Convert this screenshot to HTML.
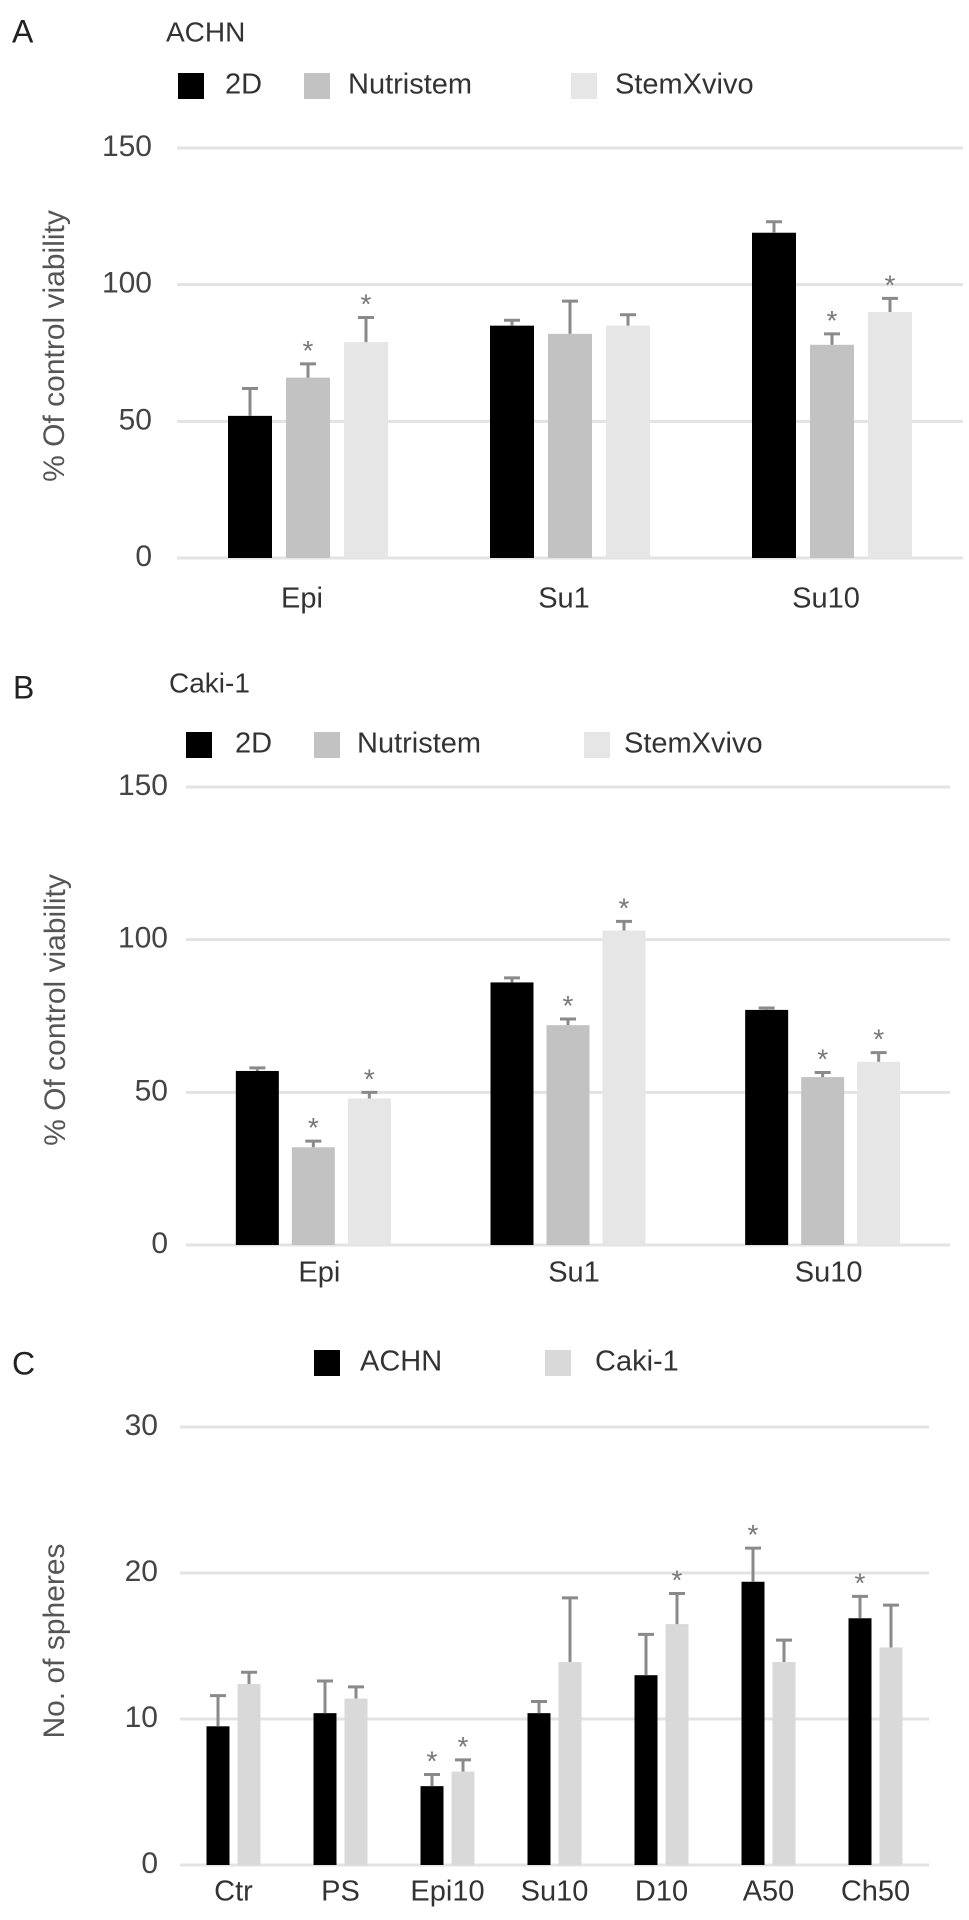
<!DOCTYPE html>
<html><head><meta charset="utf-8"><style>
html,body{margin:0;padding:0;background:#fff}
svg{display:block;font-family:"Liberation Sans",sans-serif}
</style></head><body>
<svg id="fig" width="969" height="1920" viewBox="0 0 969 1920" xmlns="http://www.w3.org/2000/svg"></svg>
<script>
// Panel A data
const catsA = ["Epi","Su1","Su10"];
const a2D = [52,85,119];
const a2Derr = [10,2,4];
const aNut = [66,82,78];
const aNutErr = [5,12,4];
const aStem = [79,85,90];
const aStemErr = [9,4,5];
const aStars = [[false,true,true],[false,false,false],[false,true,true]];
// Panel B data
const catsB = ["Epi","Su1","Su10"];
const b2D = [57,86,77];
const b2Derr = [1,1.5,0.6];
const bNut = [32,72,55];
const bNutErr = [2,2,1.5];
const bStem = [48,103,60];
const bStemErr = [2,3,3];
const bStars = [[false,true,true],[false,true,true],[false,true,true]];
const ticksAB = [0,50,100,150];
// Panel C data
const catsC = ["Ctr","PS","Epi10","Su10","D10","A50","Ch50"];
const cACHN = [9.5,10.4,5.4,10.4,13,19.4,16.9];
const cACHNerr = [2.1,2.2,0.8,0.8,2.8,2.3,1.5];
const cCaki = [12.4,11.4,6.4,13.9,16.5,13.9,14.9];
const cCakiErr = [0.8,0.8,0.8,4.4,2.1,1.5,2.9];
const cStars = [[false,false],[false,false],[true,true],[false,false],[false,true],[true,false],[true,false]];
const ticksC = [0,10,20,30];

const NS="http://www.w3.org/2000/svg";
const svg=document.getElementById('fig');
function el(tag,attrs,parent,text){const e=document.createElementNS(NS,tag);for(const k in attrs)e.setAttribute(k,attrs[k]);if(text!==undefined)e.textContent=text;(parent||svg).appendChild(e);return e;}

function panel(cfg){
  const g=el('g',{});
  
  
  const t=el('text',{x:cfg.letterX,y:cfg.letterY,'font-size':32,fill:'#222','dominant-baseline':'middle'},g,cfg.letter);
  
  
  if(cfg.title){
    const tt=el('text',{x:cfg.titleX,y:cfg.titleY,'font-size':28,fill:'#333','dominant-baseline':'middle'},g,cfg.title);
    
    
  }
  cfg.legend.forEach(L=>{
    const lg=el('g',{},g);
    
    
    el('rect',{x:L.sx,y:cfg.legY-13,width:26,height:26,fill:L.color},lg);
    el('text',{x:L.tx,y:cfg.legY,'font-size':29,fill:'#333','dominant-baseline':'middle'},lg,L.label);
  });
  const y=v=>cfg.y0-(v-cfg.vmin)/(cfg.vmax-cfg.vmin)*(cfg.y0-cfg.y1);
  cfg.ticks.forEach(tk=>{
    const gl=el('line',{x1:cfg.x0,x2:cfg.x1,y1:y(tk),y2:y(tk),stroke:'#e3e3e3','stroke-width':3},g);
    
    
    const tl=el('text',{x:cfg.tickX,y:y(tk),'font-size':30,fill:'#444','text-anchor':'end','dominant-baseline':'middle'},g,String(tk));
    
    
  });
  const yt=el('text',{x:0,y:0,'font-size':30,fill:'#555','text-anchor':'middle','dominant-baseline':'middle',transform:`translate(${cfg.ytX},${cfg.ytY}) rotate(-90)`},g,cfg.yTitle);
  
  
  const band=(cfg.x1-cfg.x0)/cfg.cats.length;
  const n=cfg.series.length;
  cfg.cats.forEach((c,i)=>{
    const cx=cfg.x0+band*(i+0.5);
    cfg.series.forEach((s,j)=>{
      const bx=cx+(j-(n-1)/2)*cfg.step-cfg.bw/2;
      const v=s.vals[i], e=s.errs[i];
      const r=el('rect',{x:bx,y:y(v),width:cfg.bw,height:cfg.y0-y(v),fill:s.color},g);
      
      
      const mx=bx+cfg.bw/2;
      const eb=el('path',{d:`M${mx},${y(v)}V${y(v+e)}M${mx-8},${y(v+e)}H${mx+8}`,stroke:'#8a8a8a','stroke-width':3,fill:'none'},g);
      
      
      if(cfg.stars[i][j]){
        const st=el('text',{x:mx,y:y(v+e)-4,'font-size':28,fill:'#777','text-anchor':'middle'},g,'*');
        
        
      }
    });
    const xl=el('text',{x:cx+(cfg.labDx||0),y:cfg.labY,'font-size':29,fill:'#333','text-anchor':'middle','dominant-baseline':'middle'},g,c);
    
    
  });
}

panel({name:'panel-a-achn',letter:'A',letterX:12,letterY:34,title:'ACHN',titleX:166,titleY:34,
  legY:86,legend:[{sx:178,tx:225,color:'#000',label:'2D'},{sx:304,tx:348,color:'#c2c2c2',label:'Nutristem'},{sx:571,tx:615,color:'#e6e6e6',label:'StemXvivo'}],
  x0:177,x1:963,y0:558,y1:148,vmin:0,vmax:150,ticks:ticksAB,tickX:152,ytX:56,ytY:346,yTitle:'% Of control viability',
  cats:catsA,bw:44,step:58,labY:600,labDx:-6,stars:aStars,
  series:[{key:'2d',color:'#000',vals:a2D,errs:a2Derr},{key:'nutristem',color:'#c2c2c2',vals:aNut,errs:aNutErr},{key:'stemxvivo',color:'#e6e6e6',vals:aStem,errs:aStemErr}]});

panel({name:'panel-b-caki1',letter:'B',letterX:13,letterY:690,title:'Caki-1',titleX:169,titleY:685,
  legY:745,legend:[{sx:186,tx:235,color:'#000',label:'2D'},{sx:314,tx:357,color:'#c2c2c2',label:'Nutristem'},{sx:584,tx:624,color:'#e6e6e6',label:'StemXvivo'}],
  x0:186,x1:950,y0:1245,y1:787,vmin:0,vmax:150,ticks:ticksAB,tickX:168,ytX:57,ytY:1010,yTitle:'% Of control viability',
  cats:catsB,bw:43,step:56,labY:1274,labDx:6,stars:bStars,
  series:[{key:'2d',color:'#000',vals:b2D,errs:b2Derr},{key:'nutristem',color:'#c2c2c2',vals:bNut,errs:bNutErr},{key:'stemxvivo',color:'#e6e6e6',vals:bStem,errs:bStemErr}]});

panel({name:'panel-c-spheres',letter:'C',letterX:12,letterY:1366,title:null,
  legY:1363,legend:[{sx:314,tx:360,color:'#000',label:'ACHN'},{sx:545,tx:595,color:'#d9d9d9',label:'Caki-1'}],
  x0:180,x1:929,y0:1865,y1:1427,vmin:0,vmax:30,ticks:ticksC,tickX:158,ytX:56,ytY:1641,yTitle:'No. of spheres',
  cats:catsC,bw:23,step:31,labY:1893,labDx:0,stars:cStars,
  series:[{key:'achn',color:'#000',vals:cACHN,errs:cACHNerr},{key:'caki1',color:'#d9d9d9',vals:cCaki,errs:cCakiErr}]});
</script>
</body></html>
